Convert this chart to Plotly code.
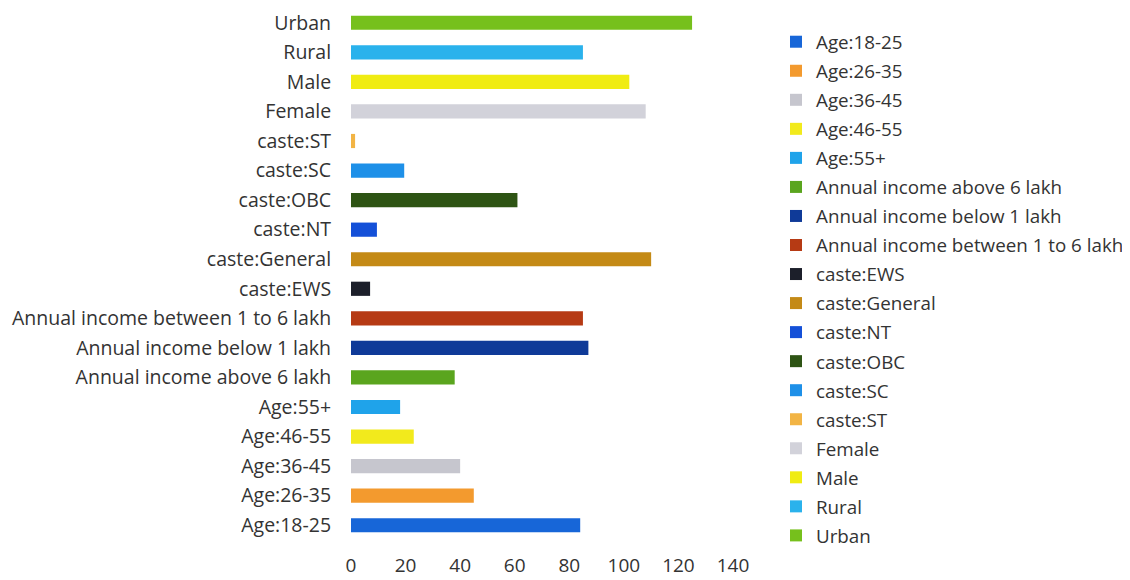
import plotly.graph_objects as go

categories = [
    "Age:18-25", "Age:26-35", "Age:36-45", "Age:46-55", "Age:55+",
    "Annual income above 6 lakh", "Annual income below 1 lakh",
    "Annual income between 1 to 6 lakh", "caste:EWS", "caste:General",
    "caste:NT", "caste:OBC", "caste:SC", "caste:ST", "Female", "Male",
    "Rural", "Urban",
]
values = [84, 45, 40, 23, 18, 38, 87, 85, 7, 110, 9.5, 61, 19.5, 1.5, 108, 102, 85, 125]
colors = [
    "#1766d8", "#f39a2e", "#c6c6ce", "#f2ea1c", "#1fa3ea",
    "#5aa51e", "#0f3a98", "#b63a14", "#1c1f2a", "#c48a16",
    "#1450d8", "#2e5414", "#1e90e8", "#f2b444", "#d2d2da",
    "#f0ec12", "#2ab2ec", "#76c01c",
]
x_ticks = [0, 20, 40, 60, 80, 100, 120, 140]

FONT = "Open Sans"
W, H = 1122, 572  # page body has an 8px margin
fig = go.Figure()
for cat, val, col in zip(categories, values, colors):
    fig.add_trace(go.Bar(
        y=[cat], x=[val], orientation="h", name=cat,
        marker=dict(color=col, line=dict(width=0)),
        legendgroup=cat,
    ))

fig.update_layout(
    width=W, height=H,
    barmode="relative", bargap=0.52,
    paper_bgcolor="white", plot_bgcolor="white",
    margin=dict(l=343, r=397, t=0, b=40, autoexpand=False),
    font=dict(family=FONT, size=19, color="#333333"),
    showlegend=True,
    legend=dict(
        xref="container", yref="container",
        x=768 / W, y=1 - 15 / H, xanchor="left", yanchor="top",
        traceorder="grouped", tracegroupgap=1.6, maxheight=565,
        font=dict(family=FONT, size=18.8, color="#333333"),
        itemwidth=30, bgcolor="rgba(0,0,0,0)",
    ),
    xaxis=dict(
        range=[0, 140], tickvals=x_ticks, showgrid=False, zeroline=False,
        showline=False, ticks="outside", ticklen=8, tickcolor="rgba(0,0,0,0)",
        tickfont=dict(family=FONT, size=19, color="#333333"), automargin=False,
    ),
    yaxis=dict(
        categoryorder="array", categoryarray=categories,
        range=[-0.5, 17.5], showgrid=False, zeroline=False, showline=False,
        ticks="outside", ticklen=15, tickcolor="rgba(0,0,0,0)",
        tickfont=dict(family=FONT, size=19.5, color="#333333"), automargin=False,
    ),
)

fig.write_html("out.html")
